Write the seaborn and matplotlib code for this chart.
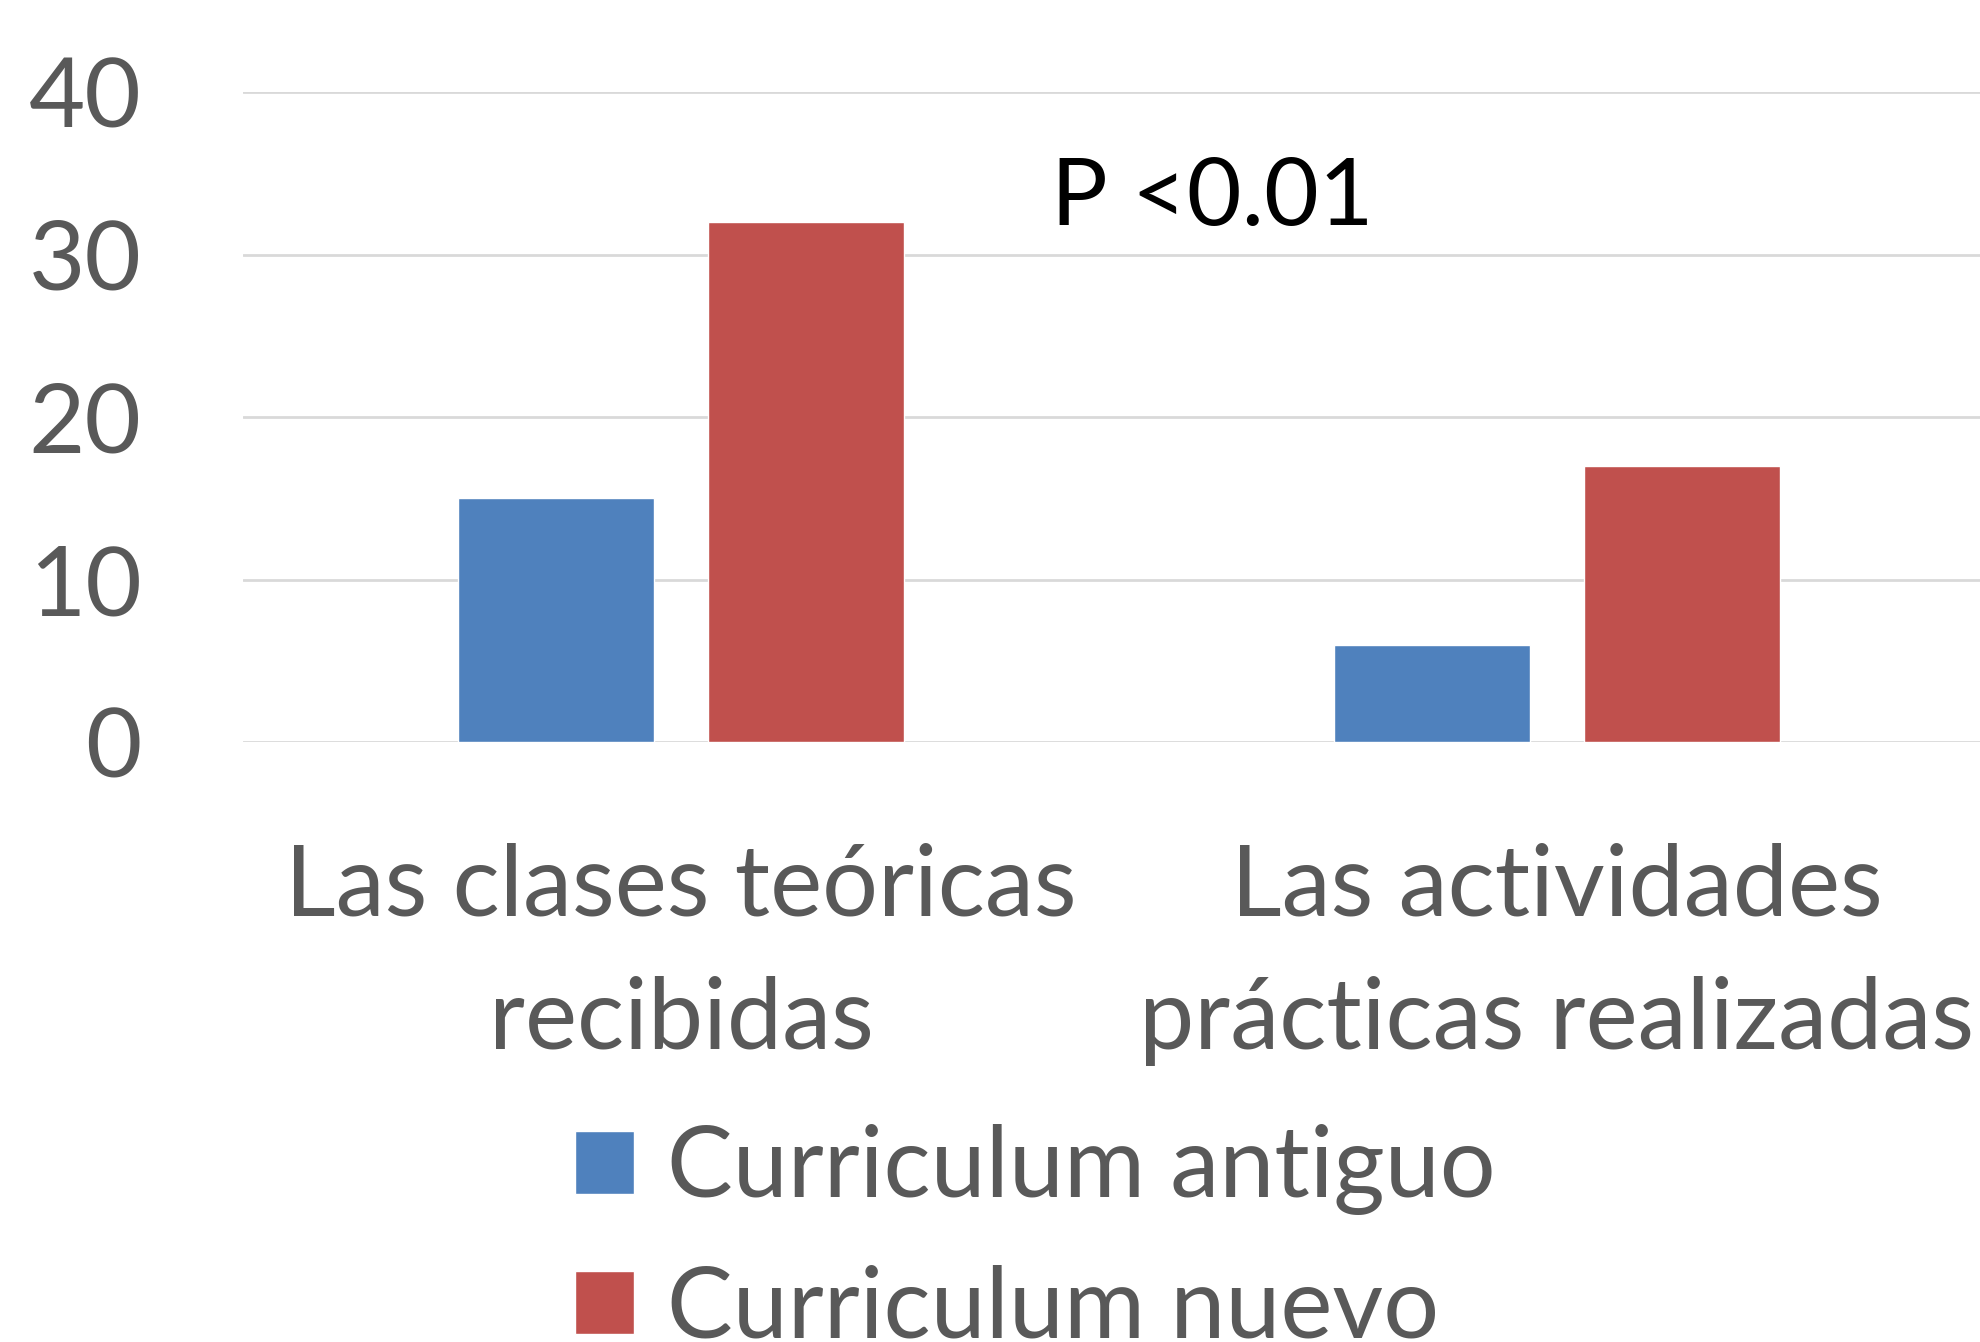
import matplotlib
matplotlib.use("Agg")
import matplotlib.pyplot as plt
import seaborn as sns
import pandas as pd

categories = ["Las clases teóricas\nrecibidas", "Las actividades\nprácticas realizadas"]
series_names = ["Curriculum antiguo", "Curriculum nuevo"]
antiguo = [15, 6]
nuevo = [32, 17]
yticks = [0, 10, 20, 30, 40]
annotation = "P <0.01"
colors = ["#4F81BD", "#C0504D"]

sns.set_theme(style="white")
plt.rcParams["font.family"] = ["Lato", "DejaVu Sans"]

df = pd.DataFrame({
    "cat": categories * 2,
    "serie": [series_names[0]] * 2 + [series_names[1]] * 2,
    "val": antiguo + nuevo,
})

W, H = 1981, 1342
fig = plt.figure(figsize=(W / 100, H / 100), dpi=100)
ax = fig.add_axes([243 / W, 600 / H, 1752 / W, 650 / H])

sns.barplot(data=df, x="cat", y="val", hue="serie", palette=colors,
            width=0.571, gap=0.216, ax=ax, saturation=1, errorbar=None)

ax.set_xlim(-0.5, 1.5)
ax.set_ylim(0, 40)
ax.set_yticks(yticks)
ax.yaxis.grid(True, color="#D9D9D9", linewidth=2)
ax.set_axisbelow(True)
for s in ax.spines.values():
    s.set_visible(False)
ax.set_xlabel("")
ax.set_ylabel("")
ax.tick_params(axis="y", length=0, pad=73, labelsize=70, labelcolor="#595959")
ax.tick_params(axis="x", length=0, pad=72, labelsize=71, labelcolor="#595959")
for lab in ax.get_xticklabels():
    lab.set_linespacing(1.6)

ax.text(0.607, 31.8, annotation, ha="center", va="baseline", fontsize=68, color="black")

leg = ax.legend(loc="upper left", bbox_to_anchor=(575 / W, 1 - 1124 / H),
                bbox_transform=fig.transFigure, frameon=False, fontsize=71,
                handlelength=0.6, handleheight=0.6, handletextpad=0.33,
                labelspacing=0.5, borderaxespad=0, borderpad=0)
for t in leg.get_texts():
    t.set_color("#595959")

fig.savefig("out.png", dpi=100)
